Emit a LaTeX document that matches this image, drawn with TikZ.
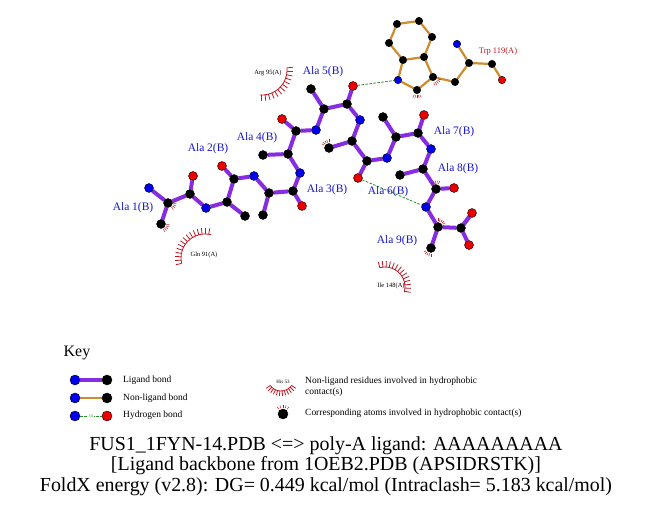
\documentclass[tikz,border=0pt]{standalone}
\usepackage{fontspec}
\setmainfont{Liberation Serif}
\usetikzlibrary{
graphs,
backgrounds,
}
\definecolor{ligpurple}{RGB}{135,45,225}
\definecolor{nonorange}{RGB}{205,140,45}
\definecolor{atomblue}{RGB}{0,0,235}
\definecolor{atomred}{RGB}{235,0,0}
\definecolor{hgreen}{RGB}{40,140,40}
\definecolor{hydred}{RGB}{190,25,35}
\definecolor{labblue}{RGB}{20,20,210}
\tikzset{
atom/.style={circle, draw=black, line width=0.4bp, inner sep=0pt, outer sep=0pt, minimum size=9bp},
catom/.style={atom, fill=black},
natom/.style={atom, fill=atomblue},
oatom/.style={atom, fill=atomred},
small/.style={minimum size=7.5bp},
ligbond/.style={draw=ligpurple, line width=4bp},
nonbond/.style={draw=nonorange, line width=2.2bp},
hbond/.style={draw=hgreen, line width=0.8bp, dash pattern=on 2.5bp off 1.5bp},
reslabel/.style={text=labblue, font=\fontsize{11.5}{13}\selectfont, inner sep=0pt},
contactlabel/.style={font=\fontsize{6.5}{7}\selectfont, inner sep=0pt},
hydro/.style={draw=hydred, line width=0.8bp},
keytext/.style={font=\fontsize{9.5}{11}\selectfont, anchor=west, inner sep=0pt},
}
\begin{document}
\begin{tikzpicture}[x=1bp, y=-1bp]
\useasboundingbox (0,0) rectangle (651,511);
% ligand atoms
\foreach \n/\x/\y in {ca1/168/203, cb1/161/224, c1/190/194, ca2/227/202, cb2/245/216, c2/234/179,
    ca3/269/193, cb3/263/215, c3/293/191, ca4/288/154, cb4/263/155, c4/296/131,
    ca5/324/109, cb5/311/89, c5/347/104, ca6/352/141, cb6/329/148, c6/367/161,
    ca7/396/137, cb7/383/117, c7/418/133, ca8/423/169, cb8/400/175, c8/436/189,
    ca9/438/227, cb9/431/248, c9/461/228}
    \node[catom] (\n) at (\x,\y) {};
\foreach \n/\x/\y in {n1/149/188, n2/206/208, n3/254/176, n4/300/173, n5/316/130,
    n6/360/120, n7/387/158, n8/431/149, n9/426/207}
    \node[natom] (\n) at (\x,\y) {};
\foreach \n/\x/\y in {o1/193/176, o2/222/166, o3/302/206, o4/282/119, o5/353/86,
    o6/358/178, o7/424/115, o8/454/188, o9/472/213, oxt/469/245}
    \node[oatom] (\n) at (\x,\y) {};
% Trp 119(A)
\foreach \n/\x/\y in {wca/469/63, wc/492/64, wcb/455/82, wcg/433/77, wcd1/417/90,
    wce2/403/60, wcd2/424/57, wce3/432/37, wcz3/419/21, wch2/397/24, wcz2/389/43}
    \node[catom, small] (\n) at (\x,\y) {};
\node[natom, small] (wn) at (457,44) {};
\node[natom, small] (wne1) at (398,80) {};
\node[oatom, small] (wo) at (502,80) {};
\begin{scope}[on background layer]
\graph [use existing nodes, edges={ligbond}] {
    n1 -- ca1 -- c1 -- n2 -- ca2 -- c2 -- n3 -- ca3 -- c3 -- n4 -- ca4 -- c4 -- n5 -- ca5 -- c5
    -- n6 -- ca6 -- c6 -- n7 -- ca7 -- c7 -- n8 -- ca8 -- c8 -- n9 -- ca9 -- c9 -- o9;
    c9 -- oxt;
};
\foreach \i in {1,...,9} {
    \draw[ligbond] (ca\i) -- (cb\i);
    \draw[ligbond] (c\i) -- (o\i);
}
\graph [use existing nodes, edges={nonbond}] {
    wn -- wca -- wc -- wo;
    wca -- wcb -- wcg -- wcd1 -- wne1 -- wce2 -- wcd2 -- wcg;
    wcd2 -- wce3 -- wcz3 -- wch2 -- wcz2 -- wce2;
};
\end{scope}
% hydrogen bonds
\draw[hbond] (o5) -- (wne1);
\draw[hbond] (o6) -- (n9);
% residue labels
\node[reslabel] (lab1) at (133,208) {Ala 1(B)};
\node[reslabel] (lab2) at (208,149) {Ala 2(B)};
\node[reslabel] (lab3) at (327,190) {Ala 3(B)};
\node[reslabel] (lab4) at (257,138) {Ala 4(B)};
\node[reslabel] (lab5) at (323,72) {Ala 5(B)};
\node[reslabel] (lab6) at (388,192) {Ala 6(B)};
\node[reslabel] (lab7) at (454,132) {Ala 7(B)};
\node[reslabel] (lab8) at (458,169) {Ala 8(B)};
\node[reslabel] (lab9) at (397,241) {Ala 9(B)};
\node[text=hydred, font=\fontsize{8.5}{10}\selectfont, inner sep=0pt] (trplab) at (498,51) {Trp 119(A)};
% hydrophobic contacts
\coordinate (arg) at (262,70);
\coordinate (gln) at (205,258);
\coordinate (ile) at (385,287);
\node[contactlabel] (arglab) at (268,73) {Arg 95(A)};
\node[contactlabel] (glnlab) at (204,255) {Gln 91(A)};
\node[contactlabel] (ilelab) at (391,286) {Ile 148(A)};
\draw[hydro] ([shift={(-5:25)}]arg) arc[start angle=-5, end angle=95, radius=25];
\foreach \a in {-5,3,...,95}
    \draw[hydro] ([shift={(\a:25)}]arg) -- ([shift={(\a:31)}]arg);
\draw[hydro] ([shift={(167:24)}]gln) arc[start angle=167, end angle=285, radius=24];
\foreach \a in {167,175,...,285}
    \draw[hydro] ([shift={(\a:24)}]gln) -- ([shift={(\a:30)}]gln);
\draw[hydro] ([shift={(255:20)}]ile) arc[start angle=255, end angle=375, radius=20];
\foreach \a in {255,264,...,375}
    \draw[hydro] ([shift={(\a:20)}]ile) -- ([shift={(\a:26)}]ile);
\foreach \at/\a in {ca1/20, cb1/35, cb6/240, wcd1/90, wcg/50, c8/265, ca9/300, cb9/120}
    \foreach \d in {-30,-15,...,30}
        \draw[hydro, line width=0.5bp] ([shift={(\a+\d:5.5)}]\at.center) -- ([shift={(\a+\d:8.5)}]\at.center);
% key
\node[font=\fontsize{16}{19}\selectfont, inner sep=0pt] (key) at (77,353) {Key};
\node[natom, minimum size=10bp] (kl1) at (75,380) {};
\node[catom, minimum size=10bp] (kl2) at (107,380) {};
\node[natom, minimum size=10bp] (kn1) at (75,398) {};
\node[catom, minimum size=10bp] (kn2) at (107,398) {};
\node[natom, minimum size=10bp] (kh1) at (75,416) {};
\node[oatom, minimum size=10bp] (kh2) at (107,416) {};
\begin{scope}[on background layer]
\draw[ligbond] (kl1) -- (kl2);
\draw[nonbond] (kn1) -- (kn2);
\end{scope}
\draw[hbond] (kh1) -- node[fill=white, text=hgreen, font=\fontsize{4}{4}\selectfont, inner sep=0.3bp] {3.0} (kh2);
\node[keytext] (kt1) at (123,380) {Ligand bond};
\node[keytext] (kt2) at (123,398) {Non-ligand bond};
\node[keytext] (kt3) at (123,415) {Hydrogen bond};
\coordinate (his) at (281,378);
\node[contactlabel, font=\fontsize{5}{5}\selectfont] (hislab) at (283,382) {His 53};
\draw[hydro] ([shift={(35:13)}]his) arc[start angle=35, end angle=145, radius=13];
\foreach \a in {35,45,...,145}
    \draw[hydro] ([shift={(\a:13)}]his) -- ([shift={(\a:18)}]his);
\node[catom, minimum size=10bp] (kc) at (283,414) {};
\foreach \d in {-40,-20,...,40}
    \draw[hydro, line width=0.5bp] ([shift={(270+\d:6)}]kc.center) -- ([shift={(270+\d:9)}]kc.center);
\node[keytext, align=left] (kt4) at (305,387) {Non-ligand residues involved in hydrophobic\\contact(s)};
\node[keytext] (kt5) at (305,413) {Corresponding atoms involved in hydrophobic contact(s)};
% title
\node[font=\fontsize{20}{20.5}\selectfont, align=center, inner sep=0pt] (title) at (326,466)
    {FUS1\_1FYN-14.PDB <=> poly-A ligand: AAAAAAAAA\\
     {[}Ligand backbone from 1OEB2.PDB (APSIDRSTK)]\\
     FoldX energy (v2.8): DG= 0.449 kcal/mol (Intraclash= 5.183 kcal/mol)};
\end{tikzpicture}
\end{document}
